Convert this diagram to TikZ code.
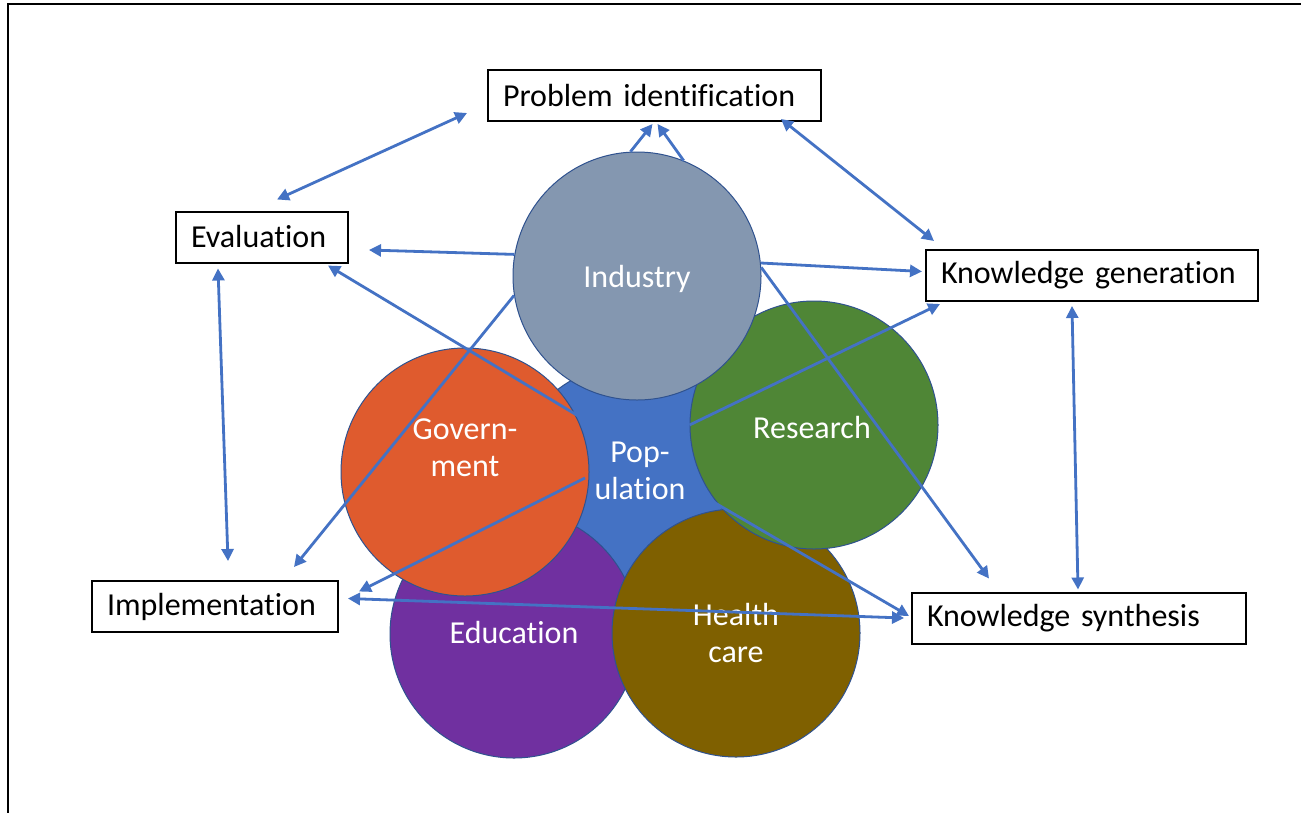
\documentclass[tikz,border=0pt]{standalone}
\usepackage{fontspec}
\setmainfont{Carlito}[Ligatures=NoCommon]
\usetikzlibrary{calc,arrows.meta}
\definecolor{industry}{HTML}{8497B0}
\definecolor{government}{HTML}{DF5B2E}
\definecolor{research}{HTML}{4F8636}
\definecolor{education}{HTML}{7030A0}
\definecolor{healthcare}{HTML}{7F6000}
\definecolor{population}{HTML}{4472C4}
\definecolor{ringline}{HTML}{2F528F}
\definecolor{linkblue}{HTML}{4472C4}
\begin{document}
\begin{tikzpicture}[x=1pt,y=-1pt,
  ring/.style={circle, draw=ringline, line width=1pt, minimum size=248pt, inner sep=0pt},
  ctext/.style={text=white, align=center, font=\fontsize{32}{37}\selectfont},
  stage/.style={draw=black, line width=2pt, fill=white, minimum height=51pt,
    inner xsep=15pt, inner ysep=0pt, align=left, font=\fontsize{32}{37}\selectfont},
  link/.style={draw=linkblue, line width=2.8pt, -{Triangle[length=12pt,width=12pt]}},
  dlink/.style={draw=linkblue, line width=2.8pt, {Triangle[length=12pt,width=12pt]}-{Triangle[length=12pt,width=12pt]}},
]
\useasboundingbox (0,0) rectangle (1301,812);
\fill[white] (0,0) rectangle (1301,812);

% page frame
\draw[line width=2pt] (8,814) -- (8,4) -- (1303,4);

% overlapping sector circles, population underneath
\node[ring, fill=population] (pop) at (633,488) {};
\node[ring, fill=education]  (edu) at (514,634) {};
\node[ring, fill=healthcare] (hc)  at (736,633) {};
\node[ring, fill=government] (gov) at (465,472) {};
\node[ring, fill=research]   (res) at (814,425) {};
\node[ring, fill=industry]   (ind) at (637,276) {};

% sector labels
\node[ctext] (indt) at (637,279) {Industry};
\node[ctext] (govt) at (465,448) {Govern-\\ment};
\node[ctext] (rest) at (812,427) {Research};
\node[ctext] (edut) at (514,632) {Education};
\node[ctext] (hct)  at (736,633) {Health\\care};
\node[ctext] (popt) at (640,471) {Pop-\\ulation};

% cycle stages
\node[stage, text width=303pt] (pi)   at (654.5,95.5) {Problem identification};
\node[stage, text width=142pt] (eval) at (262,237)    {Evaluation};
\node[stage, text width=302pt] (kg)   at (1092,275.5) {Knowledge generation};
\node[stage, text width=216pt] (impl) at (215,606.5)  {Implementation};
\node[stage, text width=304pt] (ks)   at (1079,618)   {Knowledge synthesis};

% cycle links between stages
\draw[dlink] ($(pi.south west)+(-20,-9)$) -- ($(eval.north)+(15,-11)$);
\draw[dlink] ($(pi.south east)+(-41,-3)$) -- ($(kg.north west)+(9,-8)$);
\draw[dlink] ($(kg.south)+(-20,4)$) -- ($(ks.north)+(-1,-2)$);
\draw[dlink] ($(eval.south)+(-44,5)$) -- ($(impl.north)+(13,-19)$);
\draw[dlink] ($(impl.east)+(9,-8)$) -- ($(ks.west)+(-7,0)$);

% links from the sectors to the stages
\draw[link] (ind.170) -- ($(eval.east)+(20,13)$);
\draw[link] (ind.6) -- ($(kg.west)+(-3,-4)$);
\draw[link] (ind.93) -- ($(pi.south)+(-2,2)$);
\draw[link] (ind.68) -- ($(pi.south)+(3,2)$);
\draw[link] ($(pop.center)+(-48,-68)$) -- ($(eval.south east)+(-21,2)$);
\draw[link] (ind.189) -- ($(impl.north east)+(-45,-13)$);
\draw[link] ($(pop.center)+(-48,-10)$) -- ($(impl.east)+(20,-15)$);
\draw[link] (res.west) -- ($(kg.south west)+(15,2)$);
\draw[link] (ind.4) -- ($(ks.north west)+(78,-13)$);
\draw[link] ($(pop.center)+(77,12)$) -- ($(ks.west)+(-2,-2)$);
\end{tikzpicture}
\end{document}
